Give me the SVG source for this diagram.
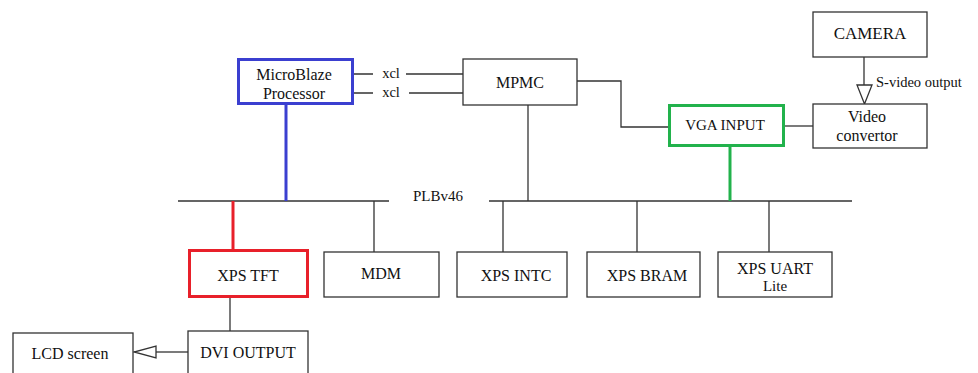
<svg xmlns="http://www.w3.org/2000/svg" width="978" height="373" viewBox="0 0 978 373">
<defs>
<style>
text{font-size:16px;fill:#111;text-anchor:middle;dominant-baseline:central}
.b{fill:#fff;stroke:#333;stroke-width:1.3}
.l{fill:none;stroke:#333;stroke-width:1.3}
.blue{fill:#fff;stroke:#3b3fd0;stroke-width:3}
.red{fill:#fff;stroke:#e8202a;stroke-width:3}
.green{fill:#fff;stroke:#22b24c;stroke-width:3}
.s{font-size:14.5px}
</style>
</defs>
<rect width="978" height="373" fill="#fff"/>
<g font-family="'Liberation Serif', 'DejaVu Serif', serif">
<g id="connectors">
<path class="l" d="M178 201H389M489 201H852"/>
<path d="M286 105V201" stroke="#3b3fd0" stroke-width="3" fill="none"/>
<path d="M233 201V250" stroke="#e8202a" stroke-width="3" fill="none"/>
<path d="M730 146V201" stroke="#22b24c" stroke-width="3" fill="none"/>
<path class="l" d="M354 74H373M406 74H463M354 93H373M409 93H463"/>
<path class="l" d="M577 81H621V127H669"/>
<path class="l" d="M528 105V201"/>
<path class="l" d="M785 126H813"/>
<path class="l" d="M864 57V85"/>
<polygon points="857,85 872,85 864.5,104" fill="#fff" stroke="#333" stroke-width="1.3"/>
<path class="l" d="M374 201V252M503 201V252M637 201V252M769 201V252"/>
<path class="l" d="M230 298V331"/>
<path class="l" d="M156 352H188"/>
<polygon points="156,346 156,358 134,352" fill="#fff" stroke="#333" stroke-width="1.3"/>
<text class="s" x="391" y="73">xcl</text>
<text class="s" x="391" y="92">xcl</text>
<text x="438" y="196" style="font-size:15px">PLBv46</text>
<text x="876" y="82" style="font-size:14.5px;text-anchor:start">S-video output</text>
</g>
<g id="microblaze"><rect class="blue" x="238.5" y="59.5" width="114" height="44"/><text x="294" y="74">MicroBlaze</text><text x="294" y="93">Processor</text></g>
<g id="mpmc"><rect class="b" x="463" y="59" width="114" height="46"/><text x="520" y="82">MPMC</text></g>
<g id="camera"><rect class="b" x="813" y="12" width="114" height="45"/><text x="870" y="33" style="font-size:17px">CAMERA</text></g>
<g id="vga"><rect class="green" x="669.5" y="105.5" width="114" height="40"/><text x="725" y="125" style="font-size:15px">VGA INPUT</text></g>
<g id="video"><rect class="b" x="813" y="104" width="114" height="44"/><text x="867" y="116">Video</text><text x="867" y="135">convertor</text></g>
<g id="xpstft"><rect class="red" x="189.5" y="250.5" width="118" height="46"/><text x="248" y="275">XPS TFT</text></g>
<g id="mdm"><rect class="b" x="324" y="252" width="115" height="45"/><text x="381" y="273">MDM</text></g>
<g id="xpsintc"><rect class="b" x="457" y="252" width="110" height="45"/><text x="516" y="275">XPS INTC</text></g>
<g id="xpsbram"><rect class="b" x="587" y="252" width="113" height="45"/><text x="647" y="275">XPS BRAM</text></g>
<g id="xpsuart"><rect class="b" x="718" y="252" width="114" height="45"/><text x="775" y="268">XPS UART</text><text x="775" y="286" style="font-size:15px">Lite</text></g>
<g id="dvi"><rect class="b" x="188" y="331" width="120" height="50"/><text x="248" y="352">DVI OUTPUT</text></g>
<g id="lcd"><rect class="b" x="13" y="333" width="120" height="50"/><text x="70" y="353">LCD screen</text></g>
</g>
</svg>
